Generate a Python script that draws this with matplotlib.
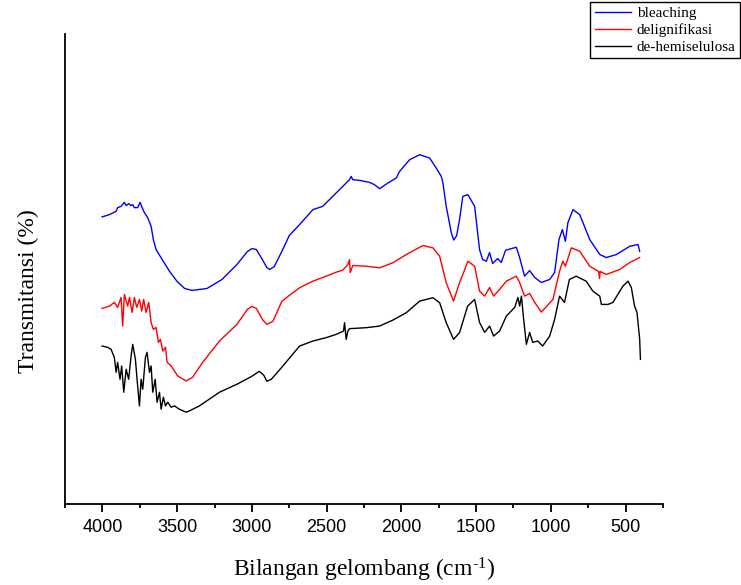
import matplotlib
matplotlib.use("Agg")
import matplotlib.pyplot as plt
import numpy as np
from matplotlib.ticker import MultipleLocator

# ---- data (wavenumber cm-1, transmittance in arbitrary units) ----
bleach_wn = [4002, 3953, 3908, 3898, 3875, 3853, 3841, 3824, 3808, 3797, 3786, 3764, 3748,
             3734, 3719, 3697, 3674, 3659, 3641, 3600, 3550, 3500, 3450, 3400, 3300, 3200,
             3100, 3030, 3000, 2970, 2930, 2900, 2880, 2850, 2800, 2750, 2681, 2592, 2526,
             2459, 2392, 2347, 2336, 2325, 2280, 2213, 2180, 2146, 2090, 2034, 2012, 1945,
             1878, 1811, 1767, 1733, 1722, 1700, 1666, 1650, 1630, 1611, 1589, 1555, 1510,
             1477, 1457, 1432, 1410, 1390, 1356, 1332, 1303, 1231, 1209, 1176, 1142, 1108,
             1064, 1008, 975, 946, 923, 903, 886, 852, 807, 740, 673, 629, 562, 472, 417, 406]
bleach_t = [287.7, 290, 293.3, 297, 298.3, 302.3, 299, 301, 299, 300, 297, 297, 302.3,
            297, 292, 287, 278.3, 265, 255, 245, 233, 223, 216, 214, 216, 225,
            240, 253, 256, 255, 245, 237, 235, 238, 253, 269, 280, 295, 298.3,
            308.3, 318.3, 325, 328.3, 325, 324.3, 322.3, 320, 316, 321.7, 326.7, 333.3, 345,
            350, 346.7, 336.7, 328.3, 321.7, 298.3, 271.7, 264.5, 269, 285, 308.3, 310, 298.3,
            255, 245, 243.3, 252, 241, 246, 242, 254.3, 257.3, 247, 228.3, 234, 227,
            222, 225, 232, 265, 275, 263.3, 282, 295, 290, 265, 250, 247, 250, 258.3, 260, 253.3]

delig_wn = [4002, 3953, 3920, 3898, 3875, 3864, 3853, 3831, 3819, 3801, 3786, 3770, 3752,
            3737, 3724, 3708, 3690, 3674, 3659, 3641, 3625, 3612, 3596, 3578, 3567, 3540,
            3496, 3440, 3396, 3329, 3217, 3100, 3030, 3000, 2970, 2930, 2900, 2860, 2800,
            2750, 2681, 2592, 2503, 2436, 2392, 2358, 2347, 2342, 2325, 2235, 2146, 2057,
            1967, 1856, 1789, 1744, 1700, 1651, 1611, 1589, 1555, 1510, 1477, 1443, 1410,
            1383, 1343, 1298, 1231, 1209, 1176, 1142, 1108, 1064, 986, 942, 920, 903, 863,
            807, 740, 680, 675, 670, 629, 540, 472, 406]
delig_t = [196, 198.3, 202, 197, 207, 178.3, 210, 198.3, 207, 192, 207, 197, 205,
           193.3, 205, 192, 202, 182, 175, 177, 162, 165, 153.3, 157, 142, 138.3,
           128.3, 123.3, 127, 142, 163.3, 180, 195, 198, 196, 185, 180, 183, 203,
           209, 216.7, 223.3, 228.3, 232.3, 234.3, 240, 245, 232, 239, 238.3, 236.7, 241.7,
           250, 259, 256.7, 248.3, 221.7, 203.3, 221.7, 230, 243.3, 238.3, 213.3, 208.3, 217,
           208.3, 215, 223.3, 228.3, 222, 208.3, 211, 202, 192.3, 205, 233.3, 243.3, 238.3, 256.7,
           253.3, 238.3, 233, 226, 233, 230, 235, 242, 247]

dehemi_wn = [4002, 3965, 3942, 3920, 3908, 3898, 3882, 3871, 3857, 3841, 3824, 3808, 3797,
             3779, 3768, 3752, 3741, 3730, 3712, 3701, 3685, 3674, 3663, 3647, 3634, 3618,
             3607, 3592, 3578, 3563, 3540, 3518, 3485, 3440, 3418, 3351, 3217, 3100, 3000,
             2950, 2920, 2900, 2870, 2800, 2681, 2592, 2503, 2436, 2387, 2380, 2369, 2358,
             2347, 2235, 2146, 2057, 1967, 1878, 1789, 1744, 1700, 1651, 1611, 1557, 1510,
             1477, 1443, 1410, 1383, 1343, 1298, 1242, 1220, 1209, 1197, 1182, 1164, 1142,
             1122, 1088, 1055, 1008, 975, 942, 909, 876, 831, 764, 719, 673, 662, 618, 585,
             518, 484, 462, 440, 424, 406, 401]
dehemi_t = [158.3, 157, 155, 147, 132, 142, 125, 138.3, 112, 135, 125, 148.3, 160,
            145, 125, 98.3, 125, 115, 147, 152, 132, 138.3, 112, 125, 102, 112,
            95, 107, 98.3, 102, 97, 98.3, 95, 92, 93.3, 98.3, 112, 120, 128,
            133, 129, 123, 125, 137, 158.3, 163.3, 166.7, 170, 173.3, 181.7, 165, 173.3,
            175.7, 176.7, 178.3, 184.3, 191.7, 203.3, 206.7, 201.7, 181.7, 165, 171.7, 198.3, 205,
            182, 172, 178.3, 168.3, 173.3, 188.3, 197, 207, 198.3, 208.3, 185, 160, 172,
            162, 163.3, 158.3, 168.3, 185, 208.3, 202, 225, 228.3, 223.3, 213.3, 208.3, 200, 200, 202,
            218.3, 223.3, 217, 198.3, 192, 165, 145]

labels = ["bleaching", "delignifikasi", "de-hemiselulosa"]
colors = ["#0000ff", "#ff0000", "#000000"]
xticks = [4000, 3500, 3000, 2500, 2000, 1500, 1000, 500]

plt.rcParams["mathtext.default"] = "regular"

fig = plt.figure(figsize=(7.41, 5.85), dpi=100)
ax = fig.add_axes([65 / 741, 1 - 504 / 585, (663 - 65) / 741, (504 - 34) / 585])

for wn, t, lab, c in zip([bleach_wn, delig_wn, dehemi_wn],
                         [bleach_t, delig_t, dehemi_t], labels, colors):
    ax.plot(wn, t, color=c, lw=1.0, label=lab)

ax.set_xlim(4250, 250)
ax.set_ylim(0, 471)
ax.set_xticks(xticks)
ax.xaxis.set_minor_locator(MultipleLocator(250))
ax.set_yticks([])
for s in ["top", "right"]:
    ax.spines[s].set_visible(False)
for s in ["left", "bottom"]:
    ax.spines[s].set_linewidth(1.3)
ax.tick_params(axis="x", which="major", length=6, width=1.3, pad=5,
               labelsize=13)
ax.tick_params(axis="x", which="minor", length=3, width=1.3)
for lbl in ax.get_xticklabels():
    lbl.set_fontfamily("Liberation Sans")

ax.set_xlabel("Bilangan gelombang (cm$^{\u2010 1}$)", family="Liberation Serif",
              fontsize=17, labelpad=14)
ax.set_ylabel("Transmitansi (%)", family="Liberation Serif", fontsize=17)
ax.yaxis.set_label_coords(-0.0435, 0.453)

leg = fig.legend(loc="upper right", bbox_to_anchor=(740 / 741, 1 - 2 / 585),
                 prop={"family": "Liberation Serif", "size": 11},
                 handlelength=2.4, handletextpad=0.35, labelspacing=0.2,
                 borderpad=0.3, borderaxespad=0, fancybox=False,
                 framealpha=1, edgecolor="black")
leg.get_frame().set_linewidth(1.0)

fig.savefig("out.png", dpi=100)
